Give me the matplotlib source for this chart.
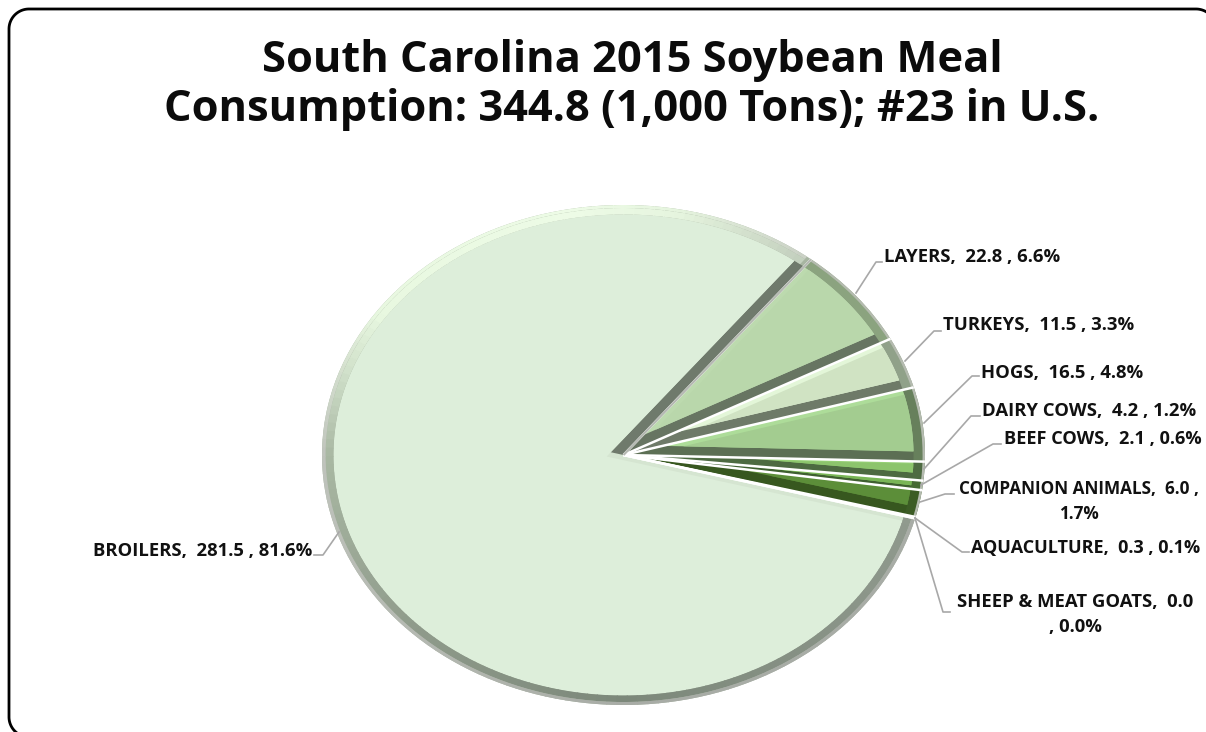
import numpy as np
import matplotlib
matplotlib.use("Agg")
import matplotlib.pyplot as plt
from matplotlib.patches import Wedge, Polygon
from matplotlib.colors import to_rgb

TITLE = "South Carolina 2015 Soybean Meal\nConsumption: 344.8 (1,000 Tons); #23 in U.S."
categories = ["Layers", "Turkeys", "Hogs", "Dairy Cows", "Beef Cows", "Companion Animals",
              "Aquaculture", "Sheep & Meat Goats", "Broilers"]
values = [22.8, 11.5, 16.5, 4.2, 2.1, 6.0, 0.3, 0.0, 281.5]
percents = ["6.6%", "3.3%", "4.8%", "1.2%", "0.6%", "1.7%", "0.1%", "0.0%", "81.6%"]
fill_colors = ["#B9D7AB", "#D0E3C3", "#A3CC90", "#8CC46C", "#79B556", "#5C8E39", "#4A7A2C", "#3F6A25", "#DDEEDA"]
high_colors = ["#BCDAAE", "#E3F6D8", "#ADDC99", "#96D076", "#86C763", "#5C8E39", "#4A7A2C", "#3F6A25", "#D5E5D1"]
band_colors = ["#677562", "#6E7A68", "#5C6F54", "#4D6A41", "#3F6030", "#37571F", "#33501D", "#2F4A1B", "#6F7A6C"]
rim_colors = ["#8BA37F", "#90A189", "#67805C", "#4E6B42", "#466A33", "#3C5C25", "#33501D", "#2F4A1B", "#A7B5A1"]

W, H = 1206, 732
fig = plt.figure(figsize=(W / 100, H / 100), dpi=100, facecolor="white")

ov = fig.add_axes([0, 0, 1, 1], zorder=3)
ov.set_xlim(0, W)
ov.set_ylim(H, 0)
ov.axis("off")
ov.patch.set_alpha(0)

ax = fig.add_axes([322 / W, (H - 705) / H, 603 / W, 500 / H], zorder=2)
wedges, _ = ax.pie(values, startangle=51.5, counterclock=False, colors=rim_colors,
                   wedgeprops=dict(linewidth=0))
ax.set_aspect("auto")
ax.set_xlim(-1, 1)
ax.set_ylim(-1, 1)
ax.axis("off")

R_IN = 0.962


def sector(a, b, ins_a, ins_b, r=R_IN):
    """Polygon of a slice (a<b, degrees) with straight edges moved inward."""
    ra, rb = np.radians(a), np.radians(b)
    n_a = np.array([-np.sin(ra), np.cos(ra)])
    n_b = np.array([np.sin(rb), -np.cos(rb)])
    if ins_a == 0 and ins_b == 0:
        apex = np.zeros(2)
    else:
        apex = np.linalg.solve(np.array([n_a, n_b]), np.array([ins_a, ins_b]))
    t = np.radians(np.linspace(a + np.degrees(ins_a / r), b - np.degrees(ins_b / r), 200))
    pts = np.column_stack([r * np.cos(t), r * np.sin(t)])
    return np.vstack([apex, pts])


def shade(theta, knots, cols):
    rgb = np.array([to_rgb(c) for c in cols])
    return tuple(np.interp(theta % 360, knots, rgb[:, k]) for k in range(3))


boundaries = []
for w, fc, hc, bc in zip(wedges, fill_colors, high_colors, band_colors):
    a, b = w.theta1, w.theta2
    span = np.radians(b - a)
    boundaries.append(b)
    if span <= 0:
        continue
    ins_a = min(0.04, 0.38 * span)
    ins_b = min(0.02, 0.12 * span)
    ax.add_patch(Polygon(sector(a, b, 0, 0), closed=True, fc=bc, ec="none", zorder=3))
    ax.add_patch(Polygon(sector(a, b, ins_a, 0), closed=True, fc=hc, ec="none", zorder=4))
    ax.add_patch(Polygon(sector(a, b, ins_a, ins_b), closed=True, fc=fc, ec="none", zorder=5))

# outer grey edge on the small slices
for w in wedges[:-1]:
    if w.theta2 > w.theta1:
        ax.add_patch(Wedge((0, 0), 1.0, w.theta1, w.theta2, width=0.008, fc="#B5BBB0", ec="none", zorder=6))

# Broilers rim shading around the circle
rim_knots = [40, 51, 80, 100, 145, 160, 180, 225, 270, 320, 346, 360]
rim_shades = ["#C0CCBB", "#C0CCBB", "#E6F5DF", "#EDFBE6", "#E8F8E0", "#D0E0CA", "#A9B8A3",
              "#8F9B8B", "#7C887A", "#8A9488", "#909A8E", "#909A8E"]
edge_shades = ["#C8CEC4", "#C8CEC4", "#E6F5DF", "#EDFBE6", "#E8F8E0", "#D4DFCE", "#BFC3BC",
               "#B5B9B2", "#A8ACA6", "#A8ACA6", "#A8ACA6", "#A8ACA6"]
bro = wedges[-1]
edges = np.linspace(bro.theta1 + 1.0, bro.theta2, 150)
for t0, t1 in zip(edges[:-1], edges[1:]):
    mid = (t0 + t1) / 2
    ax.add_patch(Wedge((0, 0), 0.988, t0, t1 + 0.2, width=0.988 - R_IN,
                       fc=shade(mid, rim_knots, rim_shades), ec="none", zorder=6))
    ax.add_patch(Wedge((0, 0), 1.0, t0, t1 + 0.2, width=0.012,
                       fc=shade(mid, rim_knots, edge_shades), ec="none", zorder=6))

# white separators between slices
for b in boundaries:
    rb = np.radians(b)
    ax.plot([0, np.cos(rb)], [0, np.sin(rb)], color="white", lw=1.8, zorder=7, solid_capstyle="butt")
ra = np.radians(wedges[-1].theta1)
ax.plot([0, np.cos(ra)], [0, np.sin(ra)], color="#B5B9B2", lw=1.6, zorder=8, solid_capstyle="butt")

# chart frame, running off the right and bottom of the canvas
x0, y0, x1, y1, rad = 9, 9, 1216, 737, 20
arc = np.radians(np.linspace(0, 90, 30))
top_right = np.column_stack([x1 - rad + rad * np.sin(arc[::-1]), y0 + rad - rad * np.cos(arc[::-1])])
top_left = np.column_stack([x0 + rad - rad * np.sin(arc), y0 + rad - rad * np.cos(arc)])
bottom_left = np.column_stack([x0 + rad - rad * np.cos(arc), y1 - rad + rad * np.sin(arc)])
frame = np.vstack([top_right, top_left, bottom_left])
ov.plot(frame[:, 0], frame[:, 1], color="black", lw=2.0, zorder=1, solid_capstyle="butt")

ov.text(632, 85, TITLE, ha="center", va="center", fontsize=31.2, fontweight="bold",
        family="Open Sans", color="#0B0B0B", linespacing=1.18)


def label(i, x, y, wrap=None, ha="left", size=13.3):
    s = f"{categories[i].upper()},  {values[i]:.1f} , {percents[i]}"
    if wrap == "pct":
        s = f"{categories[i].upper()},  {values[i]:.1f} ,\n{percents[i]}"
    elif wrap == "comma":
        s = f"{categories[i].upper()},  {values[i]:.1f}\n, {percents[i]}"
    ov.text(x, y, s, ha=ha, va="center", multialignment="center", fontsize=size, fontweight="bold",
            family="Open Sans", color="#111111", linespacing=1.5, zorder=5)


LEAD = "#A8A8A8"
label(0, 884, 257.5)
label(1, 943, 325.5)
label(2, 981, 372.5)
label(3, 982, 410.5)
label(4, 1004, 439.5, size=13.1)
label(5, 959, 501.5, wrap="pct", size=12.3)
label(6, 971, 547.5, size=13)
label(7, 957, 614.5, wrap="comma")
label(8, 312, 551.5, ha="right")

leaders = [
    [(856, 293), (876, 262), (882, 262)],
    [(905, 361), (934, 331), (941, 331)],
    [(924, 423), (972, 376), (979, 376)],
    [(924, 469), (971, 416), (980, 416)],
    [(921, 485), (993, 444), (1001, 444)],
    [(920, 502), (945, 494), (954, 494)],
    [(915, 518), (962, 552), (969, 552)],
    [(915, 518), (943, 612), (950, 612)],
    [(339, 532), (323, 555), (314, 555)],
]
for pts in leaders:
    xs, ys = zip(*pts)
    ov.plot(xs, ys, color=LEAD, lw=1.2, zorder=4)

fig.savefig("out.png", dpi=100, facecolor="white")
